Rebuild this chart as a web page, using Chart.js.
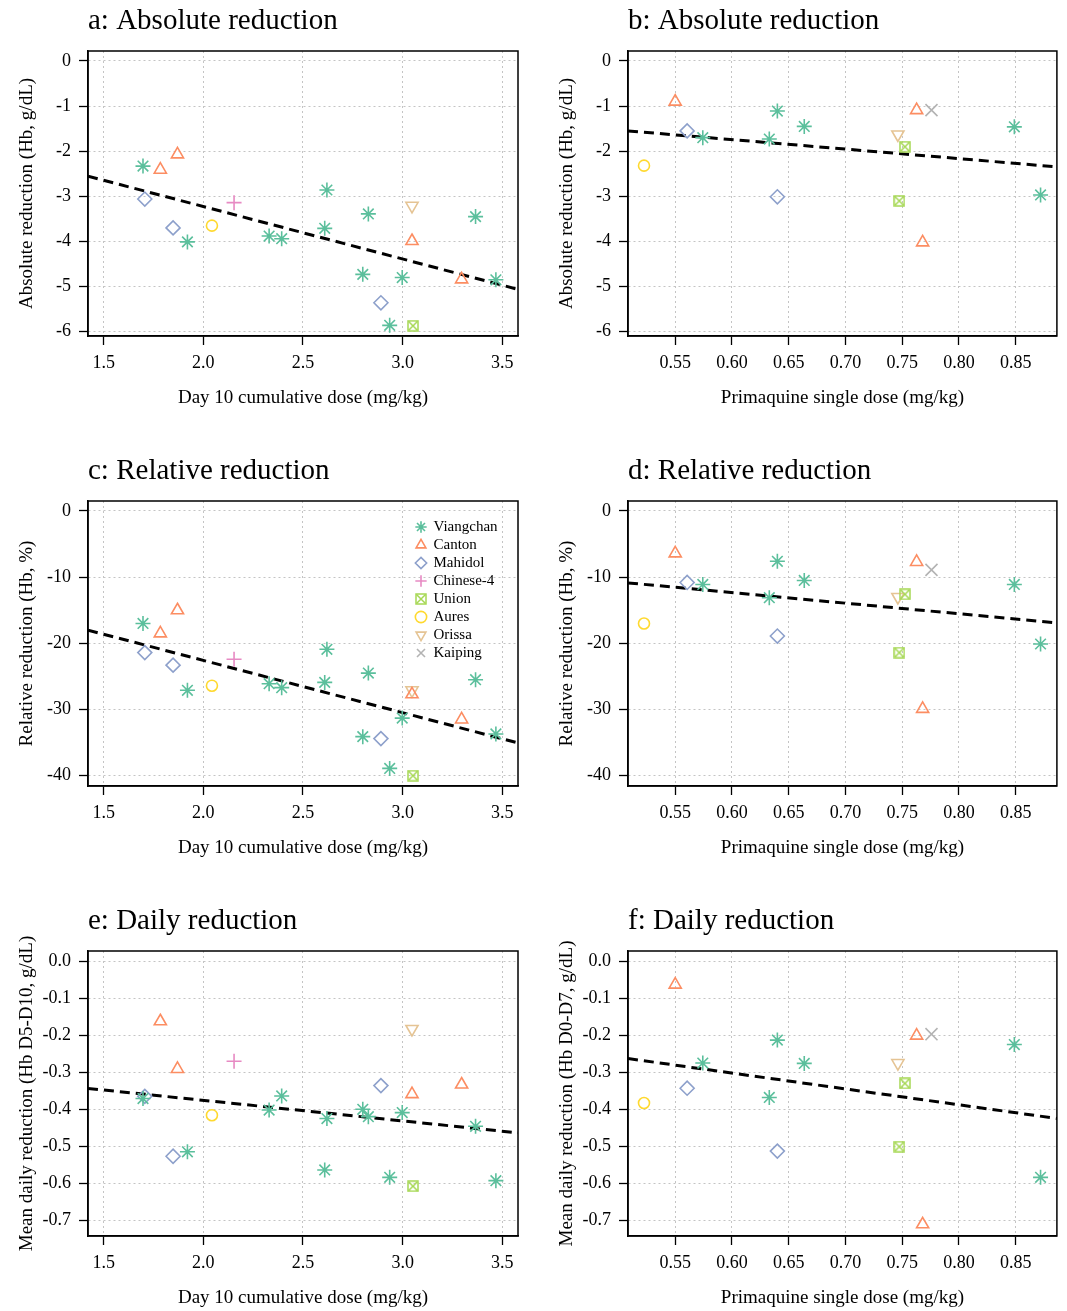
<!DOCTYPE html>
<html>
<head>
<meta charset="utf-8">
<script src="https://cdn.jsdelivr.net/npm/chart.js@4.4.1/dist/chart.umd.min.js"></script>
<style>
  html, body { margin: 0; padding: 0; background: #fff; overflow: hidden; }
  #page { position: relative; width: 1067px; height: 1311px; }
  canvas { position: absolute; }
</style>
</head>
<body>
<div id="page">
  <canvas id="pa" width="533" height="450" style="left:0;top:0"></canvas>
  <canvas id="pb" width="534" height="450" style="left:533px;top:0"></canvas>
  <canvas id="pc" width="533" height="450" style="left:0;top:450px"></canvas>
  <canvas id="pd" width="534" height="450" style="left:533px;top:450px"></canvas>
  <canvas id="pe" width="533" height="450" style="left:0;top:900px"></canvas>
  <canvas id="pf" width="534" height="450" style="left:533px;top:900px"></canvas>
</div>
<script>
// study sites
const groups = ["Viangchan", "Canton", "Mahidol", "Chinese-4", "Union", "Aures", "Orissa", "Kaiping"];

// day 10 cumulative dose studies (panels a, c, e)
const cumSite = ["Viangchan", "Viangchan", "Viangchan", "Viangchan", "Viangchan", "Viangchan",
  "Viangchan", "Viangchan", "Viangchan", "Viangchan", "Viangchan", "Viangchan",
  "Canton", "Canton", "Canton", "Canton", "Mahidol", "Mahidol", "Mahidol",
  "Chinese-4", "Union", "Aures", "Orissa"];
const cumDose = [1.697, 1.92, 2.33, 2.393, 2.62, 2.609, 2.828, 2.80, 2.998, 2.935, 3.366, 3.468,
  1.87, 1.784, 3.047, 3.296, 1.706, 1.848, 2.891, 2.154, 3.052, 2.043, 3.047];
const cumAbs = [-2.33, -4.01, -3.88, -3.94, -2.86, -3.71, -3.39, -4.73, -4.80, -5.86, -3.45, -4.85,
  -2.07, -2.41, -3.99, -4.84, -3.06, -3.70, -5.36, -3.14, -5.87, -3.65, -3.21];
const cumRel = [-17.0, -27.1, -26.1, -26.7, -20.9, -25.9, -24.5, -34.1, -31.3, -38.9, -25.5, -33.7,
  -15.0, -18.5, -27.7, -31.5, -21.4, -23.3, -34.4, -22.4, -40.0, -26.4, -27.1];
const cumDaily = [-0.371, -0.515, -0.402, -0.364, -0.425, -0.564, -0.420, -0.400, -0.409, -0.584, -0.446, -0.593,
  -0.291, -0.162, -0.359, -0.333, -0.365, -0.527, -0.336, -0.270, -0.608, -0.416, -0.183];

// primaquine single dose studies (panels b, d, f)
const sdSite = ["Aures", "Canton", "Mahidol", "Viangchan", "Viangchan", "Viangchan", "Mahidol", "Viangchan",
  "Orissa", "Union", "Union", "Canton", "Kaiping", "Canton", "Viangchan", "Viangchan"];
const sdDose = [0.5225, 0.55, 0.5605, 0.5743, 0.6329, 0.640, 0.640, 0.6637,
  0.7462, 0.7524, 0.7474, 0.7627, 0.7758, 0.768, 0.8488, 0.8719];
const sdAbs = [-2.32, -0.90, -1.55, -1.70, -1.73, -1.11, -3.01, -1.45,
  -1.63, -1.90, -3.10, -1.09, -1.09, -4.02, -1.46, -2.97];
const sdRel = [-17.0, -6.4, -10.8, -11.1, -13.1, -7.6, -18.9, -10.5,
  -13.0, -12.6, -21.4, -7.7, -8.9, -29.9, -11.1, -20.1];
const sdDaily = [-0.383, -0.063, -0.343, -0.275, -0.368, -0.213, -0.513, -0.276,
  -0.275, -0.330, -0.501, -0.201, -0.197, -0.711, -0.225, -0.584];

// fitted lines: [intercept, slope]
const fitCumAbs = [-0.900, -1.163];
const fitCumRel = [-6.78, -7.9];
const fitCumDaily = [-0.2644, -0.0557];
const fitSdAbs = [-0.479, -2.107];
const fitSdRel = [-2.73, -16.0];
const fitSdDaily = [-0.0447, -0.429];

// axis ticks and limits
const cumTicks = ["1.5", "2.0", "2.5", "3.0", "3.5"];
const sdTicks = ["0.55", "0.60", "0.65", "0.70", "0.75", "0.80", "0.85"];
const absTicks = ["0", "-1", "-2", "-3", "-4", "-5", "-6"];
const relTicks = ["0", "-10", "-20", "-30", "-40"];
const dailyTicks = ["0.0", "-0.1", "-0.2", "-0.3", "-0.4", "-0.5", "-0.6", "-0.7"];
const cumRange = [1.421, 3.579];
const sdRange = [0.5084, 0.8863];
const absRange = [-6.096, 0.221];
const relRange = [-41.56, 1.51];
const dailyRange = [-0.7426, 0.0279];

// look of each site (RColorBrewer Set2)
const colors = ["#5BBF9C", "#FC8D62", "#8DA0CB", "#E78AC3", "#A6D854", "#FFD92F", "#E5C494", "#B3B3B3"];

function unionMark(size, color) {
  const c = document.createElement("canvas");
  c.width = size; c.height = size;
  const g = c.getContext("2d");
  g.strokeStyle = color; g.lineWidth = 1.5;
  g.strokeRect(1, 1, size - 2, size - 2);
  g.beginPath();
  g.moveTo(1.5, 1.5); g.lineTo(size - 1.5, size - 1.5);
  g.moveTo(size - 1.5, 1.5); g.lineTo(1.5, size - 1.5);
  g.stroke();
  return c;
}
const shapes = ["star", "triangle", "rectRot", "cross", unionMark(12, colors[4]), "circle", "triangle", "crossRot"];
const radii = [7.5, 7, 7, 7.5, 6, 5.5, 7, 8.5];
const rotations = [0, 0, 0, 0, 0, 0, 180, 0];

Chart.defaults.font.family = "'Liberation Serif', 'DejaVu Serif', serif";
Chart.defaults.color = "#000";

// box round the plot and the panel title
const panelDeco = {
  id: "panelDeco",
  afterDraw(chart, args, opts) {
    const { ctx, chartArea: a } = chart;
    ctx.save();
    ctx.strokeStyle = "#000";
    ctx.lineWidth = 1.5;
    ctx.strokeRect(a.left, a.top, a.right - a.left, a.bottom - a.top);
    ctx.fillStyle = "#000";
    ctx.font = "29px 'Liberation Serif'";
    ctx.textBaseline = "alphabetic";
    ctx.fillText(opts.text, a.left, a.top - 22);
    ctx.restore();
  }
};

// put the legend in the top right corner of the plot
const legendShift = {
  id: "legendShift",
  afterLayout(chart) {
    const lg = chart.legend;
    if (!lg || !chart.options.plugins.legend.display) return;
    const a = chart.chartArea;
    lg.left = a.right - 105;
    lg.right = lg.left + lg.width;
    lg.top = a.top + 15.5;
    lg.bottom = lg.top + lg.height;
  }
};

function axis(isX, range, labels, title, size, titlePad) {
  return {
    type: "linear",
    position: isX ? "bottom" : "left",
    min: range[0],
    max: range[1],
    bounds: "data",
    afterBuildTicks: (s) => { s.ticks = labels.map((t) => ({ value: parseFloat(t) })); },
    afterFit: (s) => { if (isX) s.height = size; else s.width = size; },
    ticks: {
      callback: (v, i) => labels[i],
      autoSkip: false,
      maxRotation: 0,
      padding: isX ? 7 : 8,
      font: { size: 18 },
      color: "#000"
    },
    grid: {
      color: "#c4c4c4",
      lineWidth: 1,
      tickLength: 9,
      tickColor: "#000",
      tickWidth: 1.3,
      tickBorderDash: []
    },
    border: { display: true, color: "#000", width: 1.5, dash: [2, 3] },
    title: {
      display: true,
      text: title,
      font: { size: 19 },
      color: "#000",
      padding: isX ? { top: 0, bottom: titlePad } : { top: titlePad, bottom: 0 }
    }
  };
}

function makePanel(id, title, col, site, xs, ys, fit, xr, xt, yr, yt, xTitle, yTitle, showLegend) {
  const datasets = groups.map((g, k) => ({
    label: g,
    data: site.map((s, i) => (s === g ? { x: xs[i], y: ys[i] } : null)).filter((p) => p),
    borderColor: colors[k],
    backgroundColor: "rgba(0,0,0,0)",
    pointStyle: shapes[k],
    pointRadius: radii[k],
    pointBorderWidth: 1.6,
    pointRotation: rotations[k]
  }));
  datasets.push({
    type: "line",
    label: "fit",
    data: xr.map((x) => ({ x: x, y: fit[0] + fit[1] * x })),
    borderColor: "#000",
    borderWidth: 3,
    borderDash: [10, 6],
    pointRadius: 0,
    fill: false
  });

  new Chart(document.getElementById(id), {
    type: "scatter",
    data: { datasets: datasets },
    plugins: [panelDeco, legendShift],
    options: {
      responsive: false,
      animation: false,
      events: [],
      layout: { padding: { top: 51, bottom: 34, left: 0, right: col === 0 ? 15 : 9 } },
      scales: {
        x: axis(true, xr, xt, xTitle, 80, 6.6),
        y: axis(false, yr, yt, yTitle, col === 0 ? 88 : 95, col === 0 ? 15.6 : 22.6)
      },
      plugins: {
        panelDeco: { text: title },
        tooltip: { enabled: false },
        legend: {
          display: showLegend,
          position: "chartArea",
          align: "start",
          labels: {
            usePointStyle: true,
            boxWidth: 10,
            boxHeight: 8,
            padding: 3,
            font: { size: 15 },
            color: "#000",
            filter: (item) => item.text !== "fit"
          }
        }
      }
    }
  });
}

const cumTitle = "Day 10 cumulative dose (mg/kg)";
const sdTitle = "Primaquine single dose (mg/kg)";

makePanel("pa", "a: Absolute reduction", 0, cumSite, cumDose, cumAbs, fitCumAbs, cumRange, cumTicks,
  absRange, absTicks, cumTitle, "Absolute reduction (Hb, g/dL)", false);
makePanel("pb", "b: Absolute reduction", 1, sdSite, sdDose, sdAbs, fitSdAbs, sdRange, sdTicks,
  absRange, absTicks, sdTitle, "Absolute reduction (Hb, g/dL)", false);
makePanel("pc", "c: Relative reduction", 0, cumSite, cumDose, cumRel, fitCumRel, cumRange, cumTicks,
  relRange, relTicks, cumTitle, "Relative reduction (Hb, %)", true);
makePanel("pd", "d: Relative reduction", 1, sdSite, sdDose, sdRel, fitSdRel, sdRange, sdTicks,
  relRange, relTicks, sdTitle, "Relative reduction (Hb, %)", false);
makePanel("pe", "e: Daily reduction", 0, cumSite, cumDose, cumDaily, fitCumDaily, cumRange, cumTicks,
  dailyRange, dailyTicks, cumTitle, "Mean daily reduction (Hb D5-D10, g/dL)", false);
makePanel("pf", "f: Daily reduction", 1, sdSite, sdDose, sdDaily, fitSdDaily, sdRange, sdTicks,
  dailyRange, dailyTicks, sdTitle, "Mean daily reduction (Hb D0-D7, g/dL)", false);
</script>
</body>
</html>
